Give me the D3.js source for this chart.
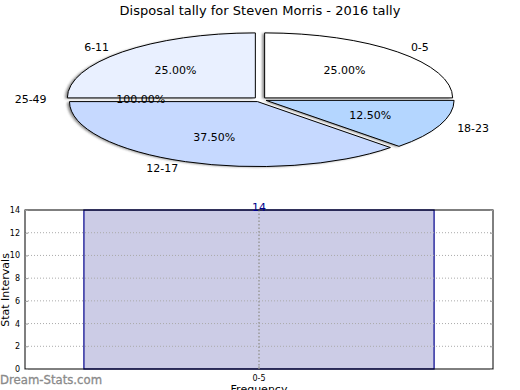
<!DOCTYPE html>
<html>
<head>
<meta charset="utf-8">
<script src="https://cdn.jsdelivr.net/npm/d3@7"></script>
<style>
  body { margin: 0; background: #fff; }
  svg { font-family: "DejaVu Sans", sans-serif; }
</style>
</head>
<body>
<div id="vis"></div>
<script>
var width = 520;
var height = 390;

// pie data
var pieCategories = ["0-5", "6-11", "25-49", "12-17", "18-23"];
var pieValues = [2, 2, 0, 3, 1];
var pieLabels = ["25.00%", "25.00%", "100.00%", "37.50%", "12.50%"];
var pieColors = ["#ffffff", "#e9f0ff", "#ffffff", "#c6d9ff", "#b4d6ff"];

// bar data
var barCategories = ["0-5"];
var barValues = [14];
var yTicks = [0, 2, 4, 6, 8, 10, 12, 14];

var svg = d3.select('#vis')
    .append('svg')
    .attr('width', width)
    .attr('height', height);

svg.append('text')
    .attr('x', 260)
    .attr('y', 15)
    .attr('text-anchor', 'middle')
    .style('font-size', '13px')
    .text('Disposal tally for Steven Morris - 2016 tally');

// pie, drawn on a unit circle then squashed
var cx = 260, cy = 99.5, rx = 188, ry = 65;
var explode = 0.035;

var pie = d3.pie()
    .sort(null)
    .value(function (d) { return d; })
    .startAngle(Math.PI / 2)
    .endAngle(Math.PI / 2 - 2 * Math.PI);

var arcs = pie(pieValues);
var arc = d3.arc().innerRadius(0).outerRadius(1);

function midAngle(d) {
    // d3 angle, clockwise from 12 o'clock
    return (d.startAngle + d.endAngle) / 2;
}
function offX(d, r) { return Math.sin(midAngle(d)) * r; }
function offY(d, r) { return -Math.cos(midAngle(d)) * r; }

var pieG = svg.append('g');

var defs = svg.append('defs');
defs.append('filter')
    .attr('id', 'blur')
    .attr('x', '-5%').attr('y', '-5%')
    .attr('width', '110%').attr('height', '110%')
    .append('feGaussianBlur')
    .attr('stdDeviation', 0.8);

// each slice: shadow then wedge
var wedges = pieG.selectAll('g.wedge')
    .data(arcs.filter(function (d) { return d.value > 0; }))
    .enter().append('g')
    .attr('class', 'wedge');

wedges.append('g')
    .attr('filter', 'url(#blur)')
    .append('path')
    .attr('transform', function (d) {
        return 'translate(' + (cx - 2.5 + offX(d, explode) * rx) + ',' + (cy + 0.6 + offY(d, explode) * ry) + ') scale(' + rx + ',' + ry + ')';
    })
    .attr('d', arc)
    .attr('fill', '#444')
    .attr('opacity', 0.6);

wedges.append('path')
    .attr('transform', function (d) {
        return 'translate(' + (cx + offX(d, explode) * rx) + ',' + (cy + offY(d, explode) * ry) + ') scale(' + rx + ',' + ry + ')';
    })
    .attr('d', arc)
    .attr('fill', function (d) { return pieColors[d.index]; })
    .attr('stroke', '#000')
    .attr('stroke-width', 1)
    .attr('vector-effect', 'non-scaling-stroke');

// category labels
pieG.append('g')
    .selectAll('text')
    .data(arcs)
    .enter().append('text')
    .attr('x', function (d) { return cx + offX(d, 1.1 + explode) * rx; })
    .attr('y', function (d) { return cy + offY(d, 1.1 + explode) * ry; })
    .attr('dy', '0.35em')
    .attr('text-anchor', function (d) { return offX(d, 1) > 0.001 ? 'start' : 'end'; })
    .style('font-size', '11px')
    .text(function (d) { return pieCategories[d.index]; });

// percentage labels
pieG.append('g')
    .selectAll('text')
    .data(arcs)
    .enter().append('text')
    .attr('x', function (d) { return cx + offX(d, 0.6 + explode) * rx; })
    .attr('y', function (d) { return cy + offY(d, 0.6 + explode) * ry; })
    .attr('dy', '0.35em')
    .attr('text-anchor', 'middle')
    .style('font-size', '11px')
    .text(function (d) { return pieLabels[d.index]; });

// bar chart
var plotLeft = 25, plotRight = 493, plotTop = 210, plotBottom = 369;

var x = d3.scaleBand()
    .domain(barCategories)
    .range([plotLeft, plotRight])
    .padding(0.144);

var y = d3.scaleLinear()
    .domain([0, 14])
    .range([plotBottom, plotTop]);

var barG = svg.append('g');

// bars
barG.selectAll('rect.bar')
    .data(barValues)
    .enter().append('rect')
    .attr('class', 'bar')
    .attr('x', function (d, i) { return x(barCategories[i]); })
    .attr('y', function (d) { return y(d); })
    .attr('width', x.bandwidth())
    .attr('height', function (d) { return y(0) - y(d); })
    .attr('fill', '#ccccE6')
    .attr('stroke', '#00008b')
    .attr('stroke-width', 1.2);

// grid
barG.selectAll('line.hgrid')
    .data(yTicks.slice(1, -1))
    .enter().append('line')
    .attr('class', 'hgrid')
    .attr('x1', plotLeft).attr('x2', plotRight)
    .attr('y1', function (d) { return y(d); })
    .attr('y2', function (d) { return y(d); })
    .attr('stroke', '#aaa')
    .attr('stroke-dasharray', '1,2');

barG.selectAll('line.vgrid')
    .data(barCategories)
    .enter().append('line')
    .attr('class', 'vgrid')
    .attr('x1', function (d) { return x(d) + x.bandwidth() / 2; })
    .attr('x2', function (d) { return x(d) + x.bandwidth() / 2; })
    .attr('y1', plotTop).attr('y2', plotBottom)
    .attr('stroke', '#999')
    .attr('stroke-width', 1.5)
    .attr('stroke-dasharray', '1.5,2');

// frame
barG.append('rect')
    .attr('x', plotLeft).attr('y', plotTop)
    .attr('width', plotRight - plotLeft).attr('height', plotBottom - plotTop)
    .attr('fill', 'none')
    .attr('stroke', '#000')
    .attr('stroke-width', 1);

// axes
var yAxisL = d3.axisLeft(y).tickValues(yTicks).tickSize(-3).tickPadding(5);
var yAxisR = d3.axisRight(y).tickValues(yTicks).tickSize(-3).tickFormat('');
var xAxis = d3.axisBottom(x).tickSize(-3).tickPadding(6);

function styleAxis(g) {
    g.select('.domain').remove();
    g.selectAll('.tick line').attr('stroke', '#999');
    g.selectAll('.tick text')
        .style('font-family', '"DejaVu Sans", sans-serif')
        .style('font-size', '8px')
        .attr('fill', '#000');
}

barG.append('g')
    .attr('transform', 'translate(' + plotLeft + ',0)')
    .call(yAxisL).call(styleAxis);
barG.append('g')
    .attr('transform', 'translate(' + plotRight + ',0)')
    .call(yAxisR).call(styleAxis);
barG.append('g')
    .attr('transform', 'translate(0,' + plotBottom + ')')
    .call(xAxis).call(styleAxis);

// bar value labels
barG.selectAll('text.value')
    .data(barValues)
    .enter().append('text')
    .attr('class', 'value')
    .attr('x', function (d, i) { return x(barCategories[i]) + x.bandwidth() / 2; })
    .attr('y', function (d) { return y(d) + 0.5; })
    .attr('text-anchor', 'middle')
    .attr('fill', '#00008b')
    .style('font-size', '11px')
    .text(function (d) { return d; });

// axis titles
svg.append('text')
    .attr('x', 259)
    .attr('y', 393)
    .attr('text-anchor', 'middle')
    .style('font-size', '11px')
    .text('Frequency');

svg.append('text')
    .attr('transform', 'translate(9,290) rotate(-90)')
    .attr('text-anchor', 'middle')
    .style('font-size', '11px')
    .text('Stat Intervals');

// watermark
svg.append('text')
    .attr('x', 0)
    .attr('y', 384)
    .attr('fill', '#8a8a8a')
    .style('font-size', '11.7px')
    .style('stroke', '#8a8a8a')
    .style('stroke-width', 0.3)
    .text('Dream-Stats.com');
</script>
</body>
</html>
